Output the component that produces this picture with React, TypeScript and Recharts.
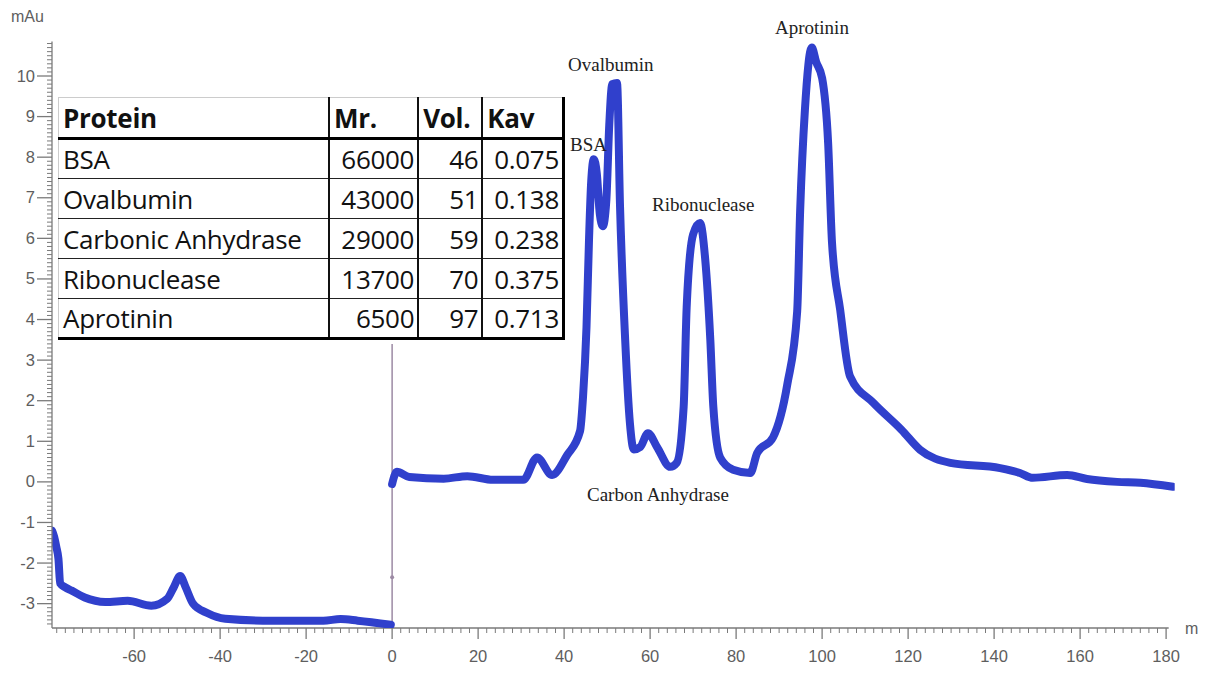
import React from 'react';
import { LineChart, Line, XAxis, YAxis, ReferenceLine, ReferenceDot } from 'recharts';

// Elution volume (ml) / absorbance (mAu) before injection point
const preVolume = [-79.1, -78.6, -78.1, -77.6, -77.2, -76.0, -74.5, -71.5, -66.7, -61.5, -56.0, -52.3, -50.8, -49.3, -48.0, -46.3, -43.0, -38.8, -28.0, -16.0, -12.0, -8.0, -0.3];
const preAbs = [-1.2, -1.35, -1.6, -1.9, -2.5, -2.6, -2.68, -2.85, -2.96, -2.93, -3.05, -2.88, -2.6, -2.32, -2.6, -3.0, -3.23, -3.37, -3.42, -3.42, -3.38, -3.42, -3.52];

// After injection
const postVolume = [0.0, 1.1, 4.0, 12.0, 17.5, 23.5, 30.5, 33.7, 37.2, 40.7, 43.7, 44.4, 45.2, 45.8, 46.3, 46.9, 47.6, 48.3, 49.0, 49.8, 50.5, 51.2, 52.3, 53.0, 54.2, 55.3, 56.2, 57.7, 59.5, 61.6, 64.7, 66.2, 67.8, 68.5, 70.0, 71.6, 72.8, 74.0, 74.7, 76.3, 79.3, 83.3, 84.9, 88.6, 91.9, 94.2, 94.9, 96.0, 97.6, 98.6, 100.0, 101.4, 102.3, 104.2, 106.5, 111.9, 118.5, 122.8, 129.8, 141.4, 146.0, 149.0, 157.0, 161.6, 168.6, 174.0, 181.6];
const postAbs = [-0.05, 0.25, 0.12, 0.08, 0.14, 0.05, 0.05, 0.6, 0.17, 0.66, 1.25, 2.1, 3.8, 6.0, 7.4, 7.95, 7.6, 6.6, 6.3, 6.9, 8.8, 9.8, 9.83, 6.8, 3.5, 1.45, 0.8, 0.86, 1.2, 0.86, 0.37, 0.47, 1.85, 4.3, 6.1, 6.38, 5.5, 3.5, 1.85, 0.6, 0.3, 0.22, 0.71, 1.1, 2.4, 4.2, 6.7, 9.16, 10.7, 10.35, 9.95, 8.35, 5.9, 4.24, 2.6, 1.95, 1.28, 0.79, 0.47, 0.34, 0.22, 0.1, 0.17, 0.07, 0.0, -0.02, -0.12];

const yMajorTicks = [-3, -2, -1, 0, 1, 2, 3, 4, 5, 6, 7, 8, 9, 10];
const xMajorTicks = [-60, -40, -20, 0, 20, 40, 60, 80, 100, 120, 140, 160, 180];

// Table contents
const proteins = ['BSA', 'Ovalbumin', 'Carbonic Anhydrase', 'Ribonuclease', 'Aprotinin'];
const mr = [66000, 43000, 29000, 13700, 6500];
const vol = [46, 51, 59, 70, 97];
const kav = ['0.075', '0.138', '0.238', '0.375', '0.713'];

// Peak annotations
const peakNames = ['Aprotinin', 'Ovalbumin', 'BSA', 'Ribonuclease', 'Carbon Anhydrase'];

const preData = preVolume.map((x, i) => ({ x, y: preAbs[i] }));
const postData = postVolume.map((x, i) => ({ x, y: postAbs[i] }));

const yTicks: number[] = [];
for (let i = -35; i <= 108; i++) yTicks.push(Math.round(i) / 10);
const xTicks: number[] = [];
for (let i = -78; i <= 180; i += 2) xTicks.push(i);

const AXIS = '#7a7a7a';
const LABEL = '#5e5e5e';
const BLUE = '#3040cc';

const YTick = (props: any) => {
  const { x, y, payload } = props;
  const v = payload.value;
  const major = yMajorTicks.some((t) => Math.abs(t - v) < 1e-6);
  return (
    <g>
      <line x1={x} x2={x - (major ? 15 : 5)} y1={y} y2={y} stroke={AXIS} strokeWidth={major ? 1.3 : 1} />
      {major && (
        <text x={x - 17} y={y} dy={5.5} textAnchor="end" fill={LABEL} fontSize={16.5} fontFamily="Liberation Sans, Arial, sans-serif">
          {v}
        </text>
      )}
    </g>
  );
};

const XTick = (props: any) => {
  const { x, y, payload } = props;
  const v = payload.value;
  const major = xMajorTicks.includes(v);
  return (
    <g>
      <line x1={x} x2={x} y1={y} y2={y + (major ? 11 : 5)} stroke={AXIS} strokeWidth={major ? 1.3 : 1} />
      {major && (
        <text x={x} y={y + 34} textAnchor="middle" fill={LABEL} fontSize={16.5} fontFamily="Liberation Sans, Arial, sans-serif">
          {v}
        </text>
      )}
    </g>
  );
};

const serif: React.CSSProperties = {
  position: 'absolute',
  fontFamily: '"Liberation Serif", "DejaVu Serif", serif',
  fontSize: 19,
  color: '#222',
  whiteSpace: 'nowrap',
  lineHeight: '20px',
};

const annPos = [
  { left: 775, top: 18 },
  { left: 568, top: 55 },
  { left: 570, top: 135 },
  { left: 652, top: 195 },
  { left: 587, top: 485 },
];

const cellBase: React.CSSProperties = {
  padding: '0 4px',
  borderBottom: '1.5px solid #222',
  borderRight: '2px solid #111',
  height: 40,
  boxSizing: 'border-box',
  whiteSpace: 'nowrap',
};

export default function App() {
  return (
    <div style={{ position: 'absolute', left: 0, top: 0, width: 1216, height: 675, background: '#fff', overflow: 'hidden' }}>
      <LineChart width={1216} height={675} margin={{ top: 41.5, right: 41.3, bottom: 0, left: 0 }}>
        <XAxis
          type="number"
          dataKey="x"
          domain={[-79.1, 182]}
          ticks={xTicks}
          interval={0}
          tick={<XTick />}
          tickSize={0}
          tickMargin={0}
          tickLine={false}
          axisLine={false}
          height={47}
          allowDataOverflow
        />
        <YAxis
          type="number"
          dataKey="y"
          domain={[-3.6, 10.85]}
          ticks={yTicks}
          interval={0}
          tick={<YTick />}
          tickSize={0}
          tickMargin={0}
          tickLine={false}
          axisLine={{ stroke: AXIS, strokeWidth: 1.3 }}
          width={52}
          allowDataOverflow
        />
        <ReferenceLine segment={[{ x: -79.1, y: -3.6 }, { x: 180.6, y: -3.6 }]} stroke={AXIS} strokeWidth={1.3} ifOverflow="visible" />
        <ReferenceLine segment={[{ x: 0, y: 3.4 }, { x: 0, y: -3.6 }]} stroke="#9c8aa4" strokeWidth={1.5} ifOverflow="visible" />
        <ReferenceDot x={0} y={-2.35} r={2} fill="#9c8aa4" stroke="none" />
        <Line data={preData} dataKey="y" type="monotone" stroke={BLUE} strokeWidth={8} dot={false} isAnimationActive={false} strokeLinecap="round" strokeLinejoin="round" />
        <Line data={postData} dataKey="y" type="monotone" stroke={BLUE} strokeWidth={8} dot={false} isAnimationActive={false} strokeLinecap="round" strokeLinejoin="round" />
      </LineChart>

      <div style={{ position: 'absolute', left: 11, top: 8, fontFamily: 'Liberation Sans, Arial, sans-serif', fontSize: 16, color: LABEL }}>mAu</div>
      <div style={{ position: 'absolute', left: 1185, top: 620, fontFamily: 'Liberation Sans, Arial, sans-serif', fontSize: 16, color: LABEL }}>m</div>

      {peakNames.map((n, i) => (
        <div key={n} style={{ ...serif, left: annPos[i].left, top: annPos[i].top }}>{n}</div>
      ))}

      <table
        style={{
          position: 'absolute',
          left: 58,
          top: 97,
          width: 507,
          borderCollapse: 'collapse',
          tableLayout: 'fixed',
          background: '#fff',
          fontFamily: '"Open Sans", "Noto Sans", sans-serif',
          fontSize: 26,
          letterSpacing: -0.3,
          color: '#111',
          borderTop: '1px solid #ccc',
          borderLeft: '1px solid #ccc',
          borderRight: '3px solid #000',
          borderBottom: '3px solid #000',
        }}
      >
        <colgroup>
          <col style={{ width: 270 }} />
          <col style={{ width: 89 }} />
          <col style={{ width: 64 }} />
          <col style={{ width: 81 }} />
        </colgroup>
        <tbody>
          <tr style={{ fontWeight: 700 }}>
            <td style={{ ...cellBase, borderBottom: '3px solid #000', height: 41 }}>Protein</td>
            <td style={{ ...cellBase, borderBottom: '3px solid #000', height: 41 }}>Mr.</td>
            <td style={{ ...cellBase, borderBottom: '3px solid #000', height: 41 }}>Vol.</td>
            <td style={{ ...cellBase, borderBottom: '3px solid #000', borderRight: 'none', height: 41 }}>Kav</td>
          </tr>
          {proteins.map((p, i) => (
            <tr key={p}>
              <td style={cellBase}>{p}</td>
              <td style={{ ...cellBase, textAlign: 'right', paddingRight: 3 }}>{mr[i]}</td>
              <td style={{ ...cellBase, textAlign: 'right', paddingRight: 3 }}>{vol[i]}</td>
              <td style={{ ...cellBase, textAlign: 'right', paddingRight: 3, borderRight: 'none', borderBottom: i === proteins.length - 1 ? 'none' : cellBase.borderBottom }}>{kav[i]}</td>
            </tr>
          ))}
        </tbody>
      </table>
    </div>
  );
}
